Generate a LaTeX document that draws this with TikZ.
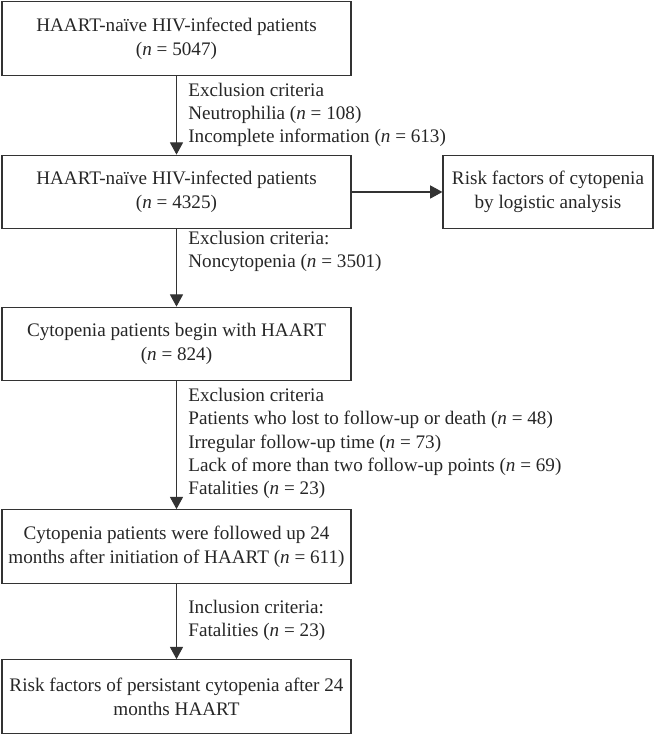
\documentclass[tikz,border=0pt]{standalone}
\usepackage{fontspec}
\setmainfont{Liberation Serif}
\usetikzlibrary{arrows.meta}

\tikzset{
  box/.style={draw=black!80, line width=0.7pt, minimum width=6.98cm, minimum height=1.47cm,
    inner sep=0pt, align=center, font=\fontsize{10.9}{13.6}\selectfont, text=black!85},
  sidebox/.style={box, minimum width=4.2cm},
  note/.style={anchor=west, align=left, inner sep=0pt, font=\fontsize{10.9}{13.3}\selectfont, text=black!85},
  arr/.style={draw=black!80, line width=0.6pt, -{Triangle[length=7pt,width=7.5pt]}}
}

\begin{document}
\begin{tikzpicture}
%% fixed frame so the page keeps the size of the flow chart
    \useasboundingbox (0,0) rectangle (13.1,14.7);
%% the boxes of the main column
    \node[box] (all) at (3.53,13.93) {HAART-naïve HIV-infected patients\\(\textit{n} = 5047)};
    \node[box] (naive) at (3.53,10.86) {HAART-naïve HIV-infected patients\\(\textit{n} = 4325)};
    \node[box] (cyto) at (3.53,7.82) {Cytopenia patients begin with HAART\\(\textit{n} = 824)};
    \node[box] (followed) at (3.53,3.77) {Cytopenia patients were followed up 24\\months after initiation of HAART (\textit{n} = 611)};
    \node[box] (persist) at (3.53,0.77) {Risk factors of persistant cytopenia after 24\\months HAART};
%% the box on the side
    \node[sidebox] (logistic) at (10.96,10.86) {Risk factors of cytopenia\\by logistic analysis};
%% texts beside the arrows
    \node[note] (excl1) at (3.76,12.40) {Exclusion criteria\\Neutrophilia (\textit{n} = 108)\\Incomplete information (\textit{n} = 613)};
    \node[note] (excl2) at (3.76,9.67) {Exclusion criteria:\\Noncytopenia (\textit{n} = 3501)};
    \node[note] (excl3) at (3.76,5.83) {Exclusion criteria\\Patients who lost to follow-up or death (\textit{n} = 48)\\Irregular follow-up time (\textit{n} = 73)\\Lack of more than two follow-up points (\textit{n} = 69)\\Fatalities (\textit{n} = 23)};
    \node[note] (incl) at (3.76,2.29) {Inclusion criteria:\\Fatalities (\textit{n} = 23)};
%% arrows
    \draw[arr] (all) -- (naive);
    \draw[arr] (naive) -- (cyto);
    \draw[arr] (cyto) -- (followed);
    \draw[arr] (followed) -- (persist);
    \draw[arr] (naive) -- (logistic);
\end{tikzpicture}
\end{document}
